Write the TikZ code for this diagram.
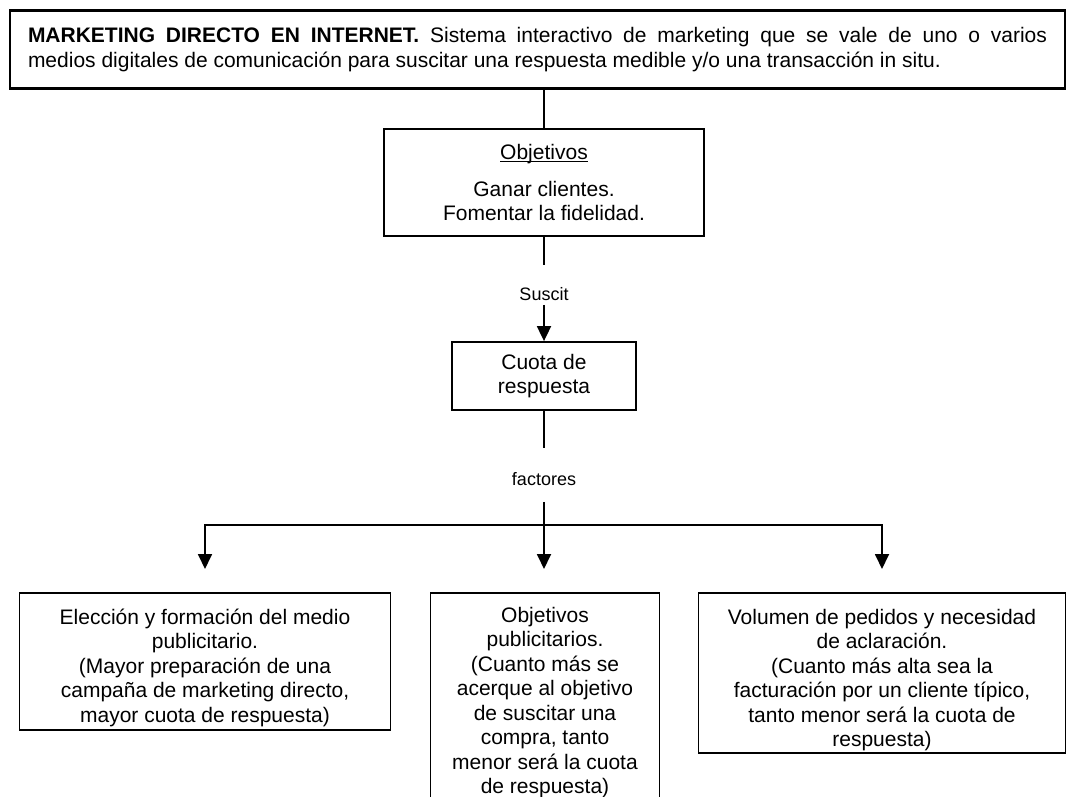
\documentclass[tikz,border=0pt]{standalone}
\usepackage{fontspec}
\setmainfont{Liberation Sans}
\usetikzlibrary{arrows.meta}

\begin{document}
\begin{tikzpicture}[x=1pt, y=-1pt]
% Define styles
\tikzstyle{intro} = [rectangle, draw=black, line width=2.5pt, text width=1019pt, align=justify, inner xsep=18pt, minimum height=78pt, font=\fontsize{21pt}{25pt}\selectfont]
\tikzstyle{box} = [rectangle, draw=black, line width=1.8pt, align=center, font=\fontsize{21pt}{24.5pt}\selectfont]
\tikzstyle{factor} = [box, anchor=north, inner sep=0pt]
\tikzstyle{tag} = [inner sep=0pt, font=\fontsize{18pt}{20pt}\selectfont]
\tikzstyle{line} = [line width=1.8pt, draw=black]
\tikzstyle{arrow} = [line, -{Triangle[length=15pt, width=14pt]}]
\useasboundingbox (0,0) rectangle (1066,796);
% Define nodes (top of the chart)
\node[intro] (marketing) at (537.5,49.5) {\textbf{MARKETING DIRECTO EN INTERNET.} Sistema interactivo de marketing que se vale de uno o varios\linebreak medios digitales de comunicación para suscitar una respuesta medible y/o una transacción in situ.};
\node[box, minimum width=320pt, minimum height=107pt] (objetivos) at (544,182.5) {\underline{\smash{Objetivos}}\vphantom{Objetivos}\\[12pt] Ganar clientes.\\ Fomentar la fidelidad.};
\node[tag] (suscit) at (544,294) {Suscit};
\node[box, minimum width=184pt, minimum height=68pt] (cuota) at (544,376) {Cuota de\\ respuesta};
\node[tag] (factores) at (544,479) {factores};
\coordinate (fork) at (544,525);
% Define factor nodes
\node[factor] (eleccion) at (205,592) {\parbox[c][137pt][t]{371pt}{\centering\vspace*{16pt}Elección y formación del medio\\ publicitario.\\ (Mayor preparación de una\\ campaña de marketing directo,\\ mayor cuota de respuesta)}};
\node[factor] (objpub) at (545,592) {\parbox[c][212pt][t]{229pt}{\centering\vspace*{14pt}Objetivos\\ publicitarios.\\ (Cuanto más se\\ acerque al objetivo\\ de suscitar una\\ compra, tanto\\ menor será la cuota\\ de respuesta)}};
\node[factor] (volumen) at (882,592) {\parbox[c][160pt][t]{367pt}{\centering\vspace*{16pt}Volumen de pedidos y necesidad\\ de aclaración.\\ (Cuanto más alta sea la\\ facturación por un cliente típico,\\ tanto menor será la cuota de\\ respuesta)}};
% Relationships (arrows)
\draw[line] (objetivos.north) -- (objetivos.north |- marketing.south);
\draw[line, shorten >=22pt] (objetivos) -- (suscit);
\draw[arrow, shorten <=4pt] (suscit) -- (cuota);
\draw[line, shorten >=24pt] (cuota) -- (factores);
\draw[line, shorten <=16pt] (factores) -- (fork);
\draw[arrow, shorten >=23pt] (fork) -| (eleccion);
\draw[arrow, shorten >=23pt] (fork) -- (fork |- objpub.north);
\draw[arrow, shorten >=23pt] (fork) -| (volumen);
\end{tikzpicture}
\end{document}
